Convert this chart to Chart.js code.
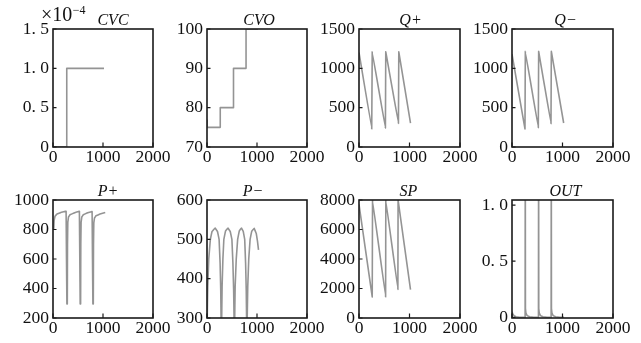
<!DOCTYPE html>
<html><head><meta charset="utf-8">
<script src="https://cdn.jsdelivr.net/npm/chart.js@4.4.1/dist/chart.umd.min.js"></script>
<style>
html,body{margin:0;padding:0;background:#fff;}
#wrap{position:relative;width:641px;height:343px;overflow:hidden;background:#fff;}
#wrap canvas{position:absolute;}
</style></head><body><div id="wrap"></div>
<script>
// ---- shared x axis ----
const xTicks = [0, 1000, 2000];
const xTickLabels = ['0', '1000', '2000'];

// ---- CVC (x10^-4) ----
const cvcX = [0, 275, 275, 1020];
const cvcY = [0, 0, 1.0, 1.0];
const cvcTicks = [0, 0.5, 1.0, 1.5];
const cvcLabels = ['0', '0. 5', '1. 0', '1. 5'];

// ---- CVO ----
const cvoX = [0, 4, 4, 265, 265, 530, 530, 781, 781, 1020];
const cvoY = [76.8, 76.8, 75, 75, 80, 80, 90, 90, 100, 100];
const cvoTicks = [70, 80, 90, 100];
const cvoLabels = ['70', '80', '90', '100'];

// ---- Q+ ----
const qpX = [0, 252, 262, 523, 530, 781, 788, 1020];
const qpY = [1200, 230, 1210, 240, 1210, 300, 1210, 305];
const qTicks = [0, 500, 1000, 1500];
const qLabels = ['0', '500', '1000', '1500'];

// ---- Q- ----
const qmX = [0, 257, 264, 521, 528, 772, 779, 1023];
const qmY = [1180, 230, 1215, 245, 1215, 297, 1215, 305];

// ---- P+ ----
const ppX = [15, 22, 40, 80, 160, 262, 270, 278, 286, 290, 296, 310, 340, 420,
             528, 536, 544, 552, 556, 562, 576, 606, 680,
             782, 790, 798, 806, 810, 816, 830, 860, 940, 1045];
const ppY = [800, 860, 890, 905, 916, 924, 600, 295, 295, 700, 850, 885, 900, 912,
             924, 600, 295, 295, 700, 850, 885, 900, 912,
             922, 600, 295, 295, 700, 845, 878, 893, 905, 915];
const ppTicks = [200, 400, 600, 800, 1000];
const ppLabels = ['200', '400', '600', '800', '1000'];

// ---- P- ----
const pmX = [3, 15, 35, 67, 100, 162, 210, 242, 262, 275, 283,
             292, 302, 318, 337, 370, 418, 465, 498, 518, 533, 543,
             552, 563, 585, 613, 645, 687, 725, 754, 772, 785, 793,
             802, 815, 835, 862, 895, 943, 985, 1010, 1030];
const pmY = [290, 380, 450, 500, 520, 529, 520, 500, 440, 370, 285,
             285, 380, 450, 500, 521, 529, 520, 500, 440, 370, 285,
             285, 380, 450, 500, 521, 529, 520, 500, 440, 370, 285,
             285, 380, 450, 500, 521, 528, 515, 495, 473];
const pmTicks = [300, 400, 500, 600];
const pmLabels = ['300', '400', '500', '600'];

// ---- SP ----
const spX = [0, 262, 268, 527, 531, 770, 774, 1020];
const spY = [7700, 1430, 8000, 1430, 8000, 1930, 8000, 1930];
const spTicks = [0, 2000, 4000, 6000, 8000];
const spLabels = ['0', '2000', '4000', '6000', '8000'];

// ---- OUT ----
const outX = [0, 15, 40, 80, 150, 260, 262, 264, 266, 275, 300, 350, 430,
              524, 526, 528, 530, 539, 564, 614, 694,
              775, 777, 779, 781, 790, 815, 865, 945, 1030];
const outY = [0.05, 0.03, 0.015, 0.005, 0.001, 0, 1.2, 1.2, 0.08, 0.04, 0.015, 0.005, 0.001,
              0, 1.2, 1.2, 0.08, 0.04, 0.015, 0.005, 0.001,
              0, 1.2, 1.2, 0.08, 0.04, 0.015, 0.005, 0.001, 0];
const outTicks = [0, 0.5, 1.0];
const outLabels = ['0', '0. 5', '1. 0'];

// ---- layout (plot boxes) ----
const cols = [[53, 153], [207, 307], [359, 460], [512, 613]];
const rows = [[29, 147], [200, 318]];

const panels = [
  {title: 'CVC', x: cvcX, y: cvcY, yt: cvcTicks, yl: cvcLabels, min: 0, max: 1.5, c: 0, r: 0, dx: 10, exp: true},
  {title: 'CVO', x: cvoX, y: cvoY, yt: cvoTicks, yl: cvoLabels, min: 70, max: 100, c: 1, r: 0, dx: 2},
  {title: 'Q+', x: qpX, y: qpY, yt: qTicks, yl: qLabels, min: 0, max: 1500, c: 2, r: 0, dx: 1},
  {title: 'Q\u2212', x: qmX, y: qmY, yt: qTicks, yl: qLabels, min: 0, max: 1500, c: 3, r: 0, dx: 3},
  {title: 'P+', x: ppX, y: ppY, yt: ppTicks, yl: ppLabels, min: 200, max: 1000, c: 0, r: 1, dx: 5},
  {title: 'P\u2212', x: pmX, y: pmY, yt: pmTicks, yl: pmLabels, min: 300, max: 600, c: 1, r: 1, dx: -4},
  {title: 'SP', x: spX, y: spY, yt: spTicks, yl: spLabels, min: 0, max: 8000, c: 2, r: 1, dx: -1},
  {title: 'OUT', x: outX, y: outY, yt: outTicks, yl: outLabels, min: -0.006, max: 1.045, c: 3, r: 1, dx: 3}
];

const YW = 52, TP = 29, RP = 26, XH = 26;
const FONT = '"Liberation Serif", "DejaVu Serif", serif';

const framePlugin = {
  id: 'frame',
  afterDatasetsDraw(chart, args, opts) {
    const ctx = chart.ctx, a = chart.chartArea;
    ctx.save();
    ctx.strokeStyle = '#1a1a1a';
    ctx.lineWidth = 1.6;
    ctx.strokeRect(a.left, a.top, a.right - a.left, a.bottom - a.top);
    ctx.lineWidth = 1.2;
    ctx.beginPath();
    const sx = chart.scales.x, sy = chart.scales.y;
    sx.ticks.forEach(t => { const p = sx.getPixelForValue(t.value); ctx.moveTo(p, a.bottom); ctx.lineTo(p, a.bottom - 4.5); });
    sy.ticks.forEach(t => { const p = sy.getPixelForValue(t.value); ctx.moveTo(a.left, p); ctx.lineTo(a.left + 3.5, p); });
    ctx.stroke();
    ctx.fillStyle = '#111';
    ctx.textAlign = 'center';
    ctx.textBaseline = 'alphabetic';
    ctx.font = 'italic 16px ' + FONT;
    ctx.fillText(opts.title, (a.left + a.right) / 2 + (opts.dx || 0), a.top - 4);
    if (opts.exp) {
      ctx.textAlign = 'left';
      ctx.font = '20px ' + FONT;
      const x0 = a.left - 12;
      ctx.fillText('\u00d710', x0, 21);
      const w = ctx.measureText('\u00d710').width;
      ctx.font = '12px ' + FONT;
      ctx.fillText('\u22124', x0 + w + 0.5, 14);
    }
    ctx.restore();
  }
};

const wrap = document.getElementById('wrap');
panels.forEach(p => {
  const [bl, br] = cols[p.c];
  const [bt, bb] = rows[p.r];
  const cv = document.createElement('canvas');
  const W = YW + (br - bl) + RP;
  const H = TP + (bb - bt) + XH;
  cv.width = W; cv.height = H;
  cv.style.width = W + 'px'; cv.style.height = H + 'px';
  cv.style.left = (bl - YW) + 'px';
  cv.style.top = (bt - TP) + 'px';
  wrap.appendChild(cv);
  const data = p.x.map((v, i) => ({x: v, y: p.y[i]}));
  new Chart(cv, {
    type: 'line',
    data: {datasets: [{data, borderColor: '#949494', borderWidth: 1.6, pointRadius: 0, tension: 0.0001,
                       fill: false, borderJoinStyle: 'round'}]},
    options: {
      responsive: false, animation: false, devicePixelRatio: 1,
      layout: {padding: {left: 0, top: TP, right: RP, bottom: 0}},
      plugins: {legend: {display: false}, tooltip: {enabled: false}, title: {display: false},
                frame: {title: p.title, dx: p.dx, exp: p.exp}},
      scales: {
        x: {
          type: 'linear', min: 0, max: 2000,
          grid: {display: false, drawTicks: false}, border: {display: false},
          afterBuildTicks: s => { s.ticks = xTicks.map(v => ({value: v})); },
          afterFit: s => { s.height = XH; },
          ticks: {padding: 0, color: '#111', font: {family: FONT, size: 17.5}, maxRotation: 0, autoSkip: false,
                  callback: v => xTickLabels[xTicks.indexOf(v)]}
        },
        y: {
          type: 'linear', min: p.min, max: p.max,
          grid: {display: false, drawTicks: false}, border: {display: false},
          afterBuildTicks: s => { s.ticks = p.yt.map(v => ({value: v})); },
          afterFit: s => { s.width = YW; },
          ticks: {padding: 4, color: '#111', font: {family: FONT, size: 17.5}, autoSkip: false,
                  callback: v => p.yl[p.yt.indexOf(v)]}
        }
      }
    },
    plugins: [framePlugin]
  });
});
</script></body></html>
